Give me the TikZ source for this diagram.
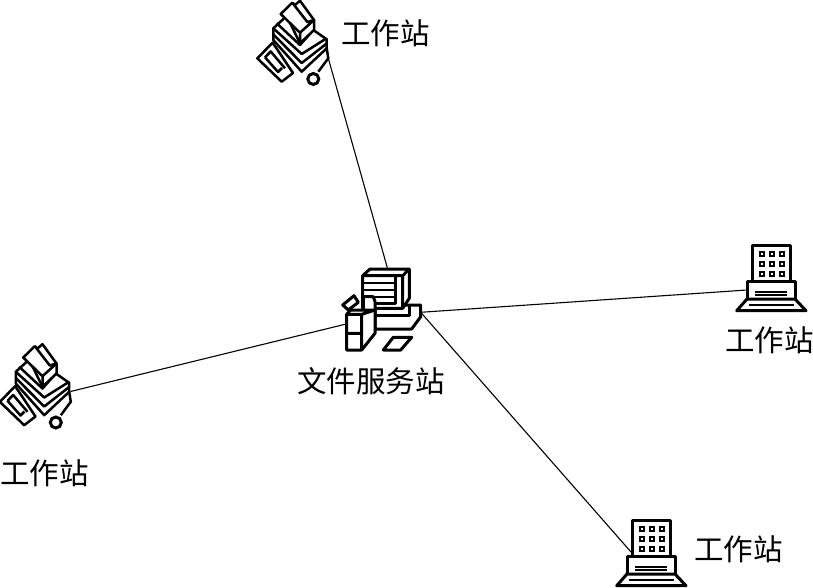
\documentclass[tikz,border=0pt]{standalone}
\usepackage{fontspec}
\newfontfamily\cjk{Noto Sans CJK SC}
\usetikzlibrary{positioning}
\begin{document}
\begin{tikzpicture}[x=1pt, y=-1pt,
        lbl/.style={font=\cjk\fontsize{29.5}{30}\selectfont, text=black, inner sep=0pt},
        link/.style={black, line width=1.1pt},
        ico/.style={black, line width=3pt, line join=round},
        pico/.style={black, line width=2.5pt, line join=round},
        fine/.style={black, line width=1.8pt},
        terminal/.pic={
          \draw[ico, fill=white] (-19,-35) rectangle (19,1);
          \foreach \gx in {-9,1,11}
            \foreach \gy in {-26,-16,-6}
              \draw[black, line width=2.2pt] (\gx-2.2,\gy-2.2) rectangle (\gx+2.2,\gy+2.2);
          \draw[ico, fill=white] (-24,1) rectangle (24,19);
          \draw[fine] (-16,11.7) -- (16,11.7) (-16,15) -- (16,15);
          \draw[ico, fill=white] (-24,19) -- (-34.3,30.7) -- (35,30.7) -- (24,19) -- cycle;
          \draw[fine] (-22,25) -- (23,25);
          \coordinate (-port) at (-24,10);
          \coordinate (-side) at (-20,-3);
        },
        printer/.pic={
          % paper tray
          \draw[pico, fill=white] (-17.3,-2.3) -- (-32.7,13.3) -- (-8.3,36.7) -- (3,28) -- cycle;
          \draw[pico] (-25,12.3) -- (-19.3,6.5) -- (-5,23.3) (-25,12.3) -- (-12,27) -- (-8,23);
          % body
          \draw[pico, fill=white] (-16.7,-16.7) -- (-16.7,-5) -- (11.7,26.7) -- (36.7,3.3) -- (36.7,-5.7) -- (23.3,-15) -- (10,-1.7) -- (-3.3,-29) -- cycle;
          \draw[pico] (-13.3,-21.7) -- (10,0) -- (23.3,-15);
          \draw[pico] (-16.7,-16.7) -- (11.7,9) -- (35,-5.7);
          \draw[pico] (-16.7,-10.5) -- (11.7,18) -- (36.7,-1.5);
          % paper stack
          \draw[pico, fill=white] (-9.3,-31) -- (2.3,-42.3) -- (5,-40) -- (10,-44.3) -- (24,-25) -- (24,-15) -- (10,-1.7) -- (10,-12.3) -- cycle;
          \draw[pico] (10,-12.3) -- (24,-25) -- (17.3,-23) -- (2.3,-42.3);
          % pen
          \draw[pico] (36.7,3.3) -- (38.3,13.3) -- (28.3,26.7);
          \node[draw=black, line width=3pt, circle, fill=white, minimum size=11pt, inner sep=0pt] (-ring) at (23.3,34) {};
          \coordinate (-port) at (38,3);
          \coordinate (-foot) at (38.3,13.3);
        },
        computer/.pic={
          % base unit
          \draw[ico, fill=white] (-7,-30) -- (38.7,-30) -- (38.7,-18.3) -- (29.7,-6) -- (-7,-6) -- cycle;
          \draw[ico] (-7,-19.3) -- (27.3,-19.3) -- (27.3,-30);
          % monitor
          \draw[ico, fill=white] (-19.3,-59.3) -- (-12,-66) -- (27.3,-66) -- (27.3,-36.7) -- (20.7,-26.7) -- (-19.3,-26.7) -- cycle;
          \draw[ico] (-19.3,-59.3) -- (20.7,-59.3) -- (27.3,-66) (20.7,-59.3) -- (20.7,-26.7);
          \draw[ico] (-19.3,-31.7) -- (13,-31.7) -- (13,-59.3);
          \draw[fine] (-19.3,-51.7) -- (13,-51.7) (-19.3,-45) -- (13,-45) (-19.3,-38.3) -- (13,-38.3);
          % tower
          \draw[ico, fill=white] (-18.7,-38.3) -- (-8.7,-38.3) -- (-7,-33.3) -- (-7,-1.7) -- (-20.3,15) -- (-35.3,15) -- (-35.3,-20.7) -- (-31.3,-25) -- (-18.7,-25) -- cycle;
          \draw[ico] (-35.3,-20.7) -- (-20.3,-20.7) -- (-20.3,15) (-35.3,-1.7) -- (-20.3,-1.7) (-20.3,-20.7) -- (-7,-25) (-18.7,-25) -- (-7,-25);
          % floppy
          \draw[ico, fill=white] (-39.3,-30) -- (-28,-39.3) -- (-23.7,-32.7) -- (-33.7,-25) -- cycle;
          % mouse pad
          \draw[ico] (1.3,15) -- (11.3,2.3) -- (29.7,2.3) -- (18.7,15) -- cycle;
          \coordinate (-n) at (5.3,-67.3);
          \coordinate (-e) at (38.7,-22.7);
          \coordinate (-w) at (-37,-10.7);
        }]
        \useasboundingbox (0,0) rectangle (813,588);
        \fill[white] (0,0) rectangle (813,588);
        \pic (srv) at (382,335) {computer};
        \pic (wsa) at (290,45) {printer};
        \pic (wsb) at (32.5,388.5) {printer};
        \pic (wsc) at (771,280) {terminal};
        \pic (wsd) at (651,555) {terminal};
        \node[lbl] (srvl) at (371,381) {文件服务站};
        \node[lbl] (wsal) at (385.5,33) {工作站};
        \node[lbl] (wsbl) at (44.5,473) {工作站};
        \node[lbl] (wscl) at (769.5,340) {工作站};
        \node[lbl] (wsdl) at (738.5,549) {工作站};
        \draw[link] (srv-n) -- (wsa-foot);
        \draw[link] (srv-w) -- (wsb-port);
        \draw[link] (srv-e) -- (wsc-port);
        \draw[link] (srv-e) -- (wsd-side);
      \end{tikzpicture}
\end{document}
